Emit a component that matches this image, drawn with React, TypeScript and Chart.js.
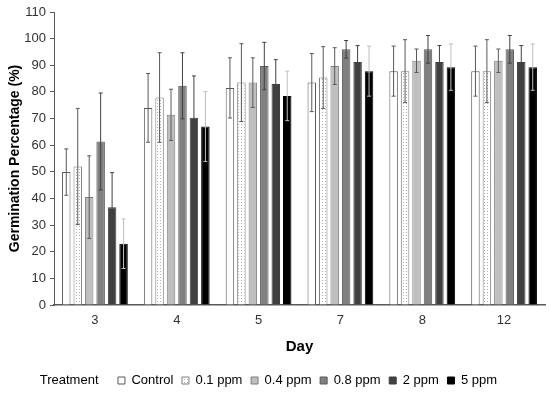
import React, { useEffect, useRef } from "react";
import { Chart, registerables } from "chart.js";

Chart.register(...registerables);

const days = ["3", "4", "5", "7", "8", "12"];
const seriesNames = ["Control", "0.1 ppm", "0.4 ppm", "0.8 ppm", "2 ppm", "5 ppm"];

const control = [49.9, 74.0, 81.5, 83.5, 87.8, 87.8];
const controlErr = [8.7, 12.9, 11.3, 10.9, 9.4, 9.4];
const ppm01 = [52.0, 77.9, 83.5, 85.4, 87.8, 87.8];
const ppm01Err = [21.8, 16.8, 14.6, 11.6, 11.8, 11.8];
const ppm04 = [40.5, 71.4, 83.5, 89.7, 91.7, 91.7];
const ppm04Err = [15.5, 9.6, 9.3, 6.9, 4.4, 4.4];
const ppm08 = [61.4, 82.3, 89.7, 96.0, 96.0, 96.0];
const ppm08Err = [18.2, 12.4, 8.9, 3.3, 5.2, 5.2];
const ppm2 = [36.7, 70.3, 83.0, 91.2, 91.2, 91.2];
const ppm2Err = [13.0, 15.7, 9.1, 6.2, 6.2, 6.2];
const ppm5 = [23.0, 67.0, 78.5, 87.8, 89.3, 89.3];
const ppm5Err = [9.3, 13.1, 9.3, 9.4, 8.7, 8.7];

const values = [control, ppm01, ppm04, ppm08, ppm2, ppm5];
const errors = [controlErr, ppm01Err, ppm04Err, ppm08Err, ppm2Err, ppm5Err];

const FONT = "'Liberation Sans', Arial, sans-serif";

function makeDotPattern(): CanvasPattern | string {
  const c = document.createElement("canvas");
  c.width = 3;
  c.height = 3;
  const ctx = c.getContext("2d");
  if (!ctx) return "#eeeeee";
  ctx.fillStyle = "#ffffff";
  ctx.fillRect(0, 0, 3, 3);
  ctx.fillStyle = "#b0b0b0";
  ctx.fillRect(1, 1, 1, 1);
  const p = ctx.createPattern(c, "repeat");
  return p || "#eeeeee";
}

const errorBarPlugin = {
  id: "errorBars",
  afterDatasetsDraw(chart: any) {
    const ctx = chart.ctx;
    const yScale = chart.scales.y;
    chart.data.datasets.forEach((ds: any, di: number) => {
      const meta = chart.getDatasetMeta(di);
      const errs = errors[di];
      meta.data.forEach((bar: any, i: number) => {
        const v = values[di][i];
        const e = errs[i];
        const yTop = yScale.getPixelForValue(v + e);
        const yBot = yScale.getPixelForValue(v - e);
        const x = bar.x;
        ctx.save();
        ctx.strokeStyle = ds.errorColor;
        ctx.lineWidth = 1;
        ctx.beginPath();
        ctx.moveTo(x, yTop);
        ctx.lineTo(x, yBot);
        ctx.moveTo(x - 2, yTop);
        ctx.lineTo(x + 2, yTop);
        ctx.moveTo(x - 2, yBot);
        ctx.lineTo(x + 2, yBot);
        ctx.stroke();
        ctx.restore();
      });
    });
  },
};

export default function App() {
  const ref = useRef<HTMLCanvasElement | null>(null);

  useEffect(() => {
    if (!ref.current) return;
    const fills: any[] = ["#ffffff", makeDotPattern(), "#bfbfbf", "#808080", "#404040", "#000000"];
    const borders = ["#595959", "#7f7f7f", "#7f7f7f", "#595959", "#404040", "#000000"];
    const errColors = ["#595959", "#595959", "#595959", "#404040", "#404040", "#bfbfbf"];

    const chart = new Chart(ref.current, {
      type: "bar",
      data: {
        labels: days,
        datasets: seriesNames.map((name, i) => ({
          label: name,
          data: values[i],
          backgroundColor: fills[i],
          borderColor: borders[i],
          borderWidth: 1,
          errorColor: errColors[i],
          categoryPercentage: 0.84,
          barPercentage: 0.74,
        })) as any,
      },
      options: {
        responsive: false,
        animation: false,
        layout: { padding: { top: 12, right: 5, left: 0, bottom: -3 } },
        plugins: {
          tooltip: { enabled: false },
          legend: {
            position: "bottom",
            labels: {
              font: { family: FONT, size: 13 },
              color: "#000000",
              boxWidth: 7,
              boxHeight: 7,
              padding: 5,
              generateLabels: (ch: any) => {
                const raw = Chart.defaults.plugins.legend.labels.generateLabels(ch);
                const base = raw.map((it: any, idx: number) => ({
                  ...it,
                  text: it.text + (idx === raw.length - 1 ? "      " : " "),
                }));
                return [
                  {
                    text: "Treatment    ",
                    fillStyle: "rgba(0,0,0,0)",
                    strokeStyle: "rgba(0,0,0,0)",
                    lineWidth: 0,
                    hidden: false,
                    datasetIndex: -1,
                    fontColor: "#000000",
                  } as any,
                  ...base,
                ];
              },
            },
          },
        },
        scales: {
          x: {
            grid: { display: false },
            border: { display: true, color: "#595959", width: 1.5 },
            ticks: { font: { family: FONT, size: 13 }, color: "#333333", padding: 0 },
            title: {
              display: true,
              text: "Day",
              font: { family: FONT, size: 15, weight: "bold" },
              color: "#000000",
              padding: { top: 6, bottom: 13 },
            },
            afterFit: (s: any) => {
              s.height = 64;
            },
          },
          y: {
            min: 0,
            max: 110,
            ticks: { stepSize: 10, font: { family: FONT, size: 13 }, color: "#333333", padding: 4 },
            grid: { display: true, drawOnChartArea: false, drawTicks: true, tickLength: 4, color: "#595959" },
            border: { display: true, color: "#595959", width: 1 },
            title: {
              display: true,
              text: "Germination Percentage (%)",
              font: { family: FONT, size: 14, weight: "bold" },
              color: "#000000",
              padding: { top: 7, bottom: 2 },
            },
            afterFit: (s: any) => {
              s.width = 54;
            },
          },
        },
      },
      plugins: [errorBarPlugin],
    });
    return () => chart.destroy();
  }, []);

  return (
    <div style={{ position: "absolute", left: 0, top: 0, width: 550, height: 394, background: "#fff" }}>
      <canvas ref={ref} width={550} height={394} />
    </div>
  );
}
